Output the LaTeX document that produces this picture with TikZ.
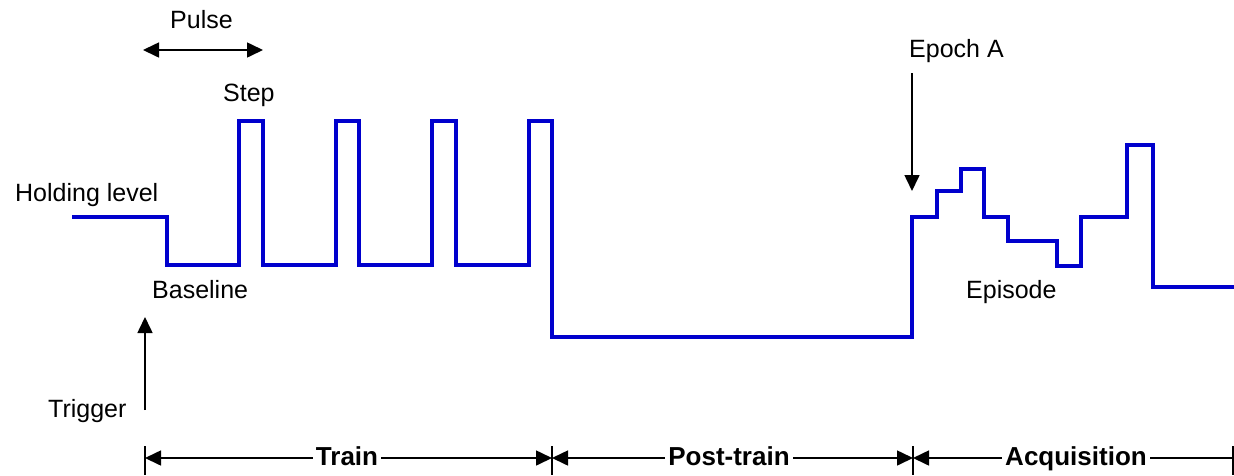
\documentclass[tikz,border=0pt]{standalone}
\usepackage{fontspec}
\setmainfont{Liberation Sans}
\usetikzlibrary{arrows.meta}
\definecolor{wave}{RGB}{0,0,205}
\tikzset{
  >={Triangle[length=16pt,width=15pt]},
  wavepath/.style={draw=wave, line width=3.2pt, line join=miter},
  lbl/.style={inner sep=0pt, anchor=base west, font=\fontsize{25}{30}\selectfont},
  seglbl/.style={inner xsep=3pt, inner ysep=1pt, anchor=base, fill=white, font=\fontsize{26}{30}\selectfont\bfseries},
  pointer/.style={draw=black, line width=1.6pt},
  dimline/.style={draw=black, line width=1.6pt},
  tickmark/.style={draw=black, line width=1.6pt}
}
\begin{document}
\begin{tikzpicture}[x=1pt,y=-1pt]
\useasboundingbox (0,0) rectangle (1234,475);
% waveform
\draw[wavepath] (72,217) -- (167,217) -- (167,265) -- (239,265) -- (239,121) -- (263,121) -- (263,265)
  -- (336,265) -- (336,121) -- (359,121) -- (359,265) -- (432,265) -- (432,121) -- (456,121) -- (456,265)
  -- (529,265) -- (529,121) -- (552,121) -- (552,337) -- (912,337) -- (912,217) -- (937,217) -- (937,191)
  -- (961,191) -- (961,169) -- (984,169) -- (984,217) -- (1008,217) -- (1008,241) -- (1057,241) -- (1057,266)
  -- (1081,266) -- (1081,217) -- (1127,217) -- (1127,145) -- (1153,145) -- (1153,287) -- (1234,287);
% labels
\node[lbl] (pulse) at (170,28) {Pulse};
\node[lbl] (step) at (223,101) {Step};
\node[lbl] (hold) at (15,201) {Holding level};
\node[lbl] (base) at (152,298) {Baseline};
\node[lbl] (trig) at (48,417) {Trigger};
\node[lbl] (epoch) at (909,57) {Epoch A};
\node[lbl] (episode) at (966,298) {Episode};
% pulse arrow
\coordinate (pa) at (143,50);
\coordinate (pb) at (263,50);
\draw[pointer, <->] (pa) -- (pb);
% trigger arrow
\coordinate (t0) at (145,410);
\coordinate (t1) at (145,317);
\draw[pointer, ->] (t0) -- (t1);
% epoch arrow
\coordinate (e0) at (912,73);
\coordinate (e1) at (912,191);
\draw[pointer, ->] (e0) -- (e1);
% dimension ticks
\coordinate (d0) at (145,458);
\coordinate (d1) at (552,458);
\coordinate (d2) at (913,458);
\coordinate (d3) at (1233,458);
\foreach \c in {d0,d1,d2,d3} \draw[tickmark] ([yshift=12pt]\c) -- ([yshift=-17pt]\c);
\draw[dimline, <->] (d0) -- (d1);
\draw[dimline, <->] (d1) -- (d2);
\draw[dimline, <-] (d2) -- (d3);
\node[seglbl] (train) at (347,465) {Train};
\node[seglbl] (post) at (729,465) {Post-train};
\node[seglbl] (acq) at (1076,465) {Acquisition};
\end{tikzpicture}
\end{document}
